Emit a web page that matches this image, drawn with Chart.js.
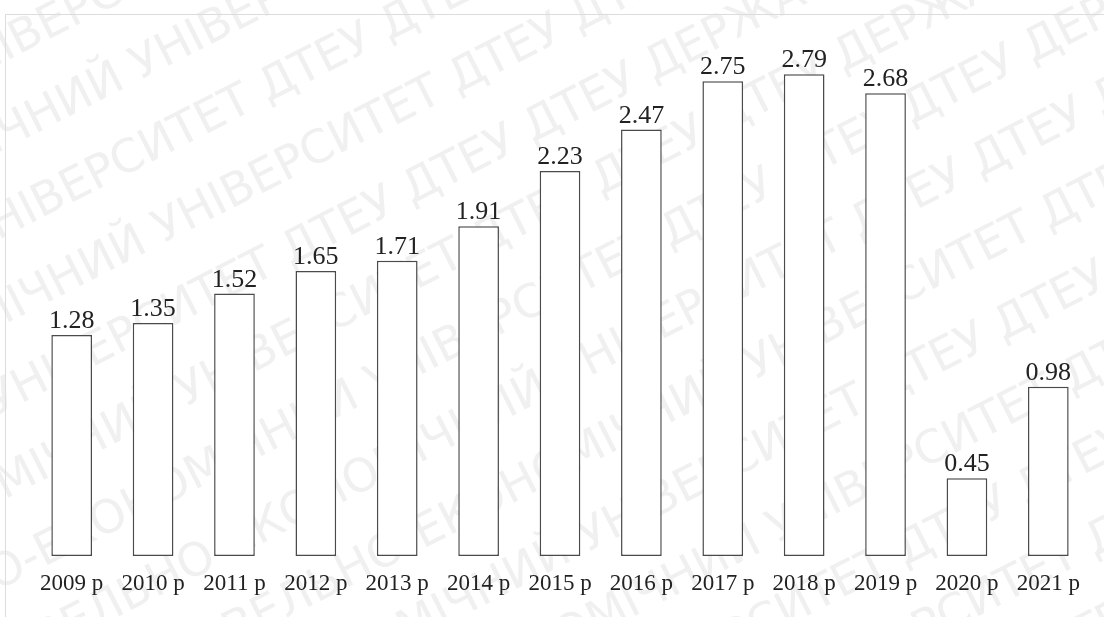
<!DOCTYPE html>
<html>
<head>
<meta charset="utf-8">
<script src="https://cdn.jsdelivr.net/npm/chart.js@4"></script>
<style>
html,body{margin:0;padding:0;background:#fff;}
#wrap{position:relative;width:1104px;height:617px;overflow:hidden;}
#frame{position:absolute;left:5px;top:14px;right:-5px;bottom:-5px;border-left:1px solid #dcdcdc;border-top:1px solid #dcdcdc;pointer-events:none;}
canvas{position:absolute;left:0;top:0;}
</style>
</head>
<body>
<div id="wrap">
<canvas id="c" width="1104" height="617"></canvas>
<div id="frame"></div>
</div>
<script>
const categories = ["2009 р","2010 р","2011 р","2012 р","2013 р","2014 р","2015 р","2016 р","2017 р","2018 р","2019 р","2020 р","2021 р"];
const values = [1.28,1.35,1.52,1.65,1.71,1.91,2.23,2.47,2.75,2.79,2.68,0.45,0.98];
const valueLabels = ["1.28","1.35","1.52","1.65","1.71","1.91","2.23","2.47","2.75","2.79","2.68","0.45","0.98"];
const watermarkText = "ДТЕУ ДЕРЖАВНИЙ ТОРГОВЕЛЬНО-ЕКОНОМІЧНИЙ УНІВЕРСИТЕТ ДТЕУ ДТЕУ ";

const watermark = {
  id: 'watermark',
  beforeDraw(chart) {
    const ctx = chart.ctx;
    ctx.save();
    ctx.fillStyle = '#f0f0f0';
    ctx.font = '46px "DejaVu Sans", sans-serif';
    ctx.textBaseline = 'alphabetic';
    ctx.translate(552, 308);
    ctx.rotate(-27 * Math.PI / 180);
    const line = watermarkText.repeat(4);
    for (let k = -7; k <= 7; k++) {
      const off = (k * 173) % 400;
      ctx.fillText(line, -1400 + off, k * 78);
    }
    ctx.restore();
  }
};

const labels = {
  id: 'labels',
  afterDatasetsDraw(chart) {
    const ctx = chart.ctx;
    const xs = chart.scales.x, ys = chart.scales.y;
    ctx.save();
    ctx.textAlign = 'center';
    ctx.textBaseline = 'alphabetic';
    ctx.fillStyle = '#222';
    ctx.font = '26px "Liberation Serif", serif';
    values.forEach((v, i) => {
      ctx.fillText(valueLabels[i], xs.getPixelForValue(i), ys.getPixelForValue(v) - 7);
    });
    ctx.font = '23px "Liberation Serif", serif';
    categories.forEach((c, i) => {
      ctx.fillText(c, xs.getPixelForValue(i), ys.getPixelForValue(0) + 34);
    });
    ctx.restore();
  }
};

new Chart(document.getElementById('c'), {
  type: 'bar',
  data: {
    labels: categories,
    datasets: [{
      data: values,
      backgroundColor: '#ffffff',
      borderColor: '#4a4a4a',
      borderWidth: 1.5,
      borderSkipped: false,
      barPercentage: 0.5,
      categoryPercentage: 1.0
    }]
  },
  options: {
    responsive: false,
    animation: false,
    layout: { padding: { left: 31, right: 15, top: 38, bottom: 61 } },
    plugins: { legend: { display: false }, tooltip: { enabled: false } },
    scales: {
      x: { display: false },
      y: { display: false, min: 0, max: 3 }
    }
  },
  plugins: [watermark, labels]
});
</script>
</body>
</html>
